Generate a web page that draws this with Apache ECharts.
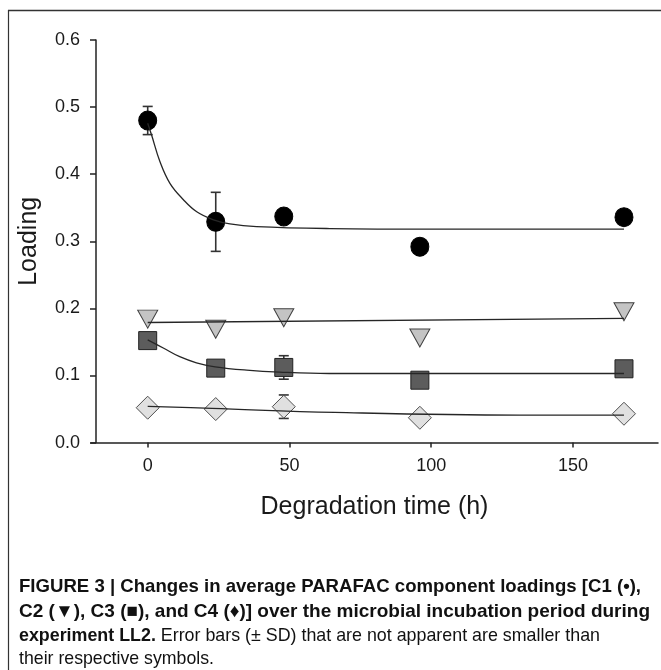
<!DOCTYPE html>
<html><head><meta charset="utf-8">
<script src="https://cdn.jsdelivr.net/npm/echarts@6/dist/echarts.min.js"></script>
<style>html,body{margin:0;padding:0;background:#fff}#c{width:661px;height:670px}</style>
</head><body><div id="c"></div>
<script>
// ---- data ----
const times = [0, 24, 48, 96, 168];
const c1 = [0.480, 0.329, 0.337, 0.292, 0.336];
const c1Err = [0.021, 0.044, 0, 0, 0];
const c2 = [0.184, 0.169, 0.186, 0.156, 0.195];
const c2Err = [0, 0, 0, 0, 0];
const c3 = [0.152, 0.111, 0.112, 0.093, 0.110];
const c3Err = [0, 0, 0.0175, 0, 0];
const c4 = [0.052, 0.050, 0.0535, 0.037, 0.043];
const c4Err = [0, 0, 0.0175, 0, 0];

// fitted curves
const fitC1T = [0, 1.4, 4.3, 7.9, 12.6, 17.3, 23.2, 29, 38.4, 64.3, 100, 168];
const fitC1 = [0.476, 0.458, 0.419, 0.386, 0.362, 0.344, 0.332, 0.326, 0.322, 0.319, 0.318, 0.318];
const fitC2T = [0, 168];
const fitC2 = [0.179, 0.185];
const fitC3T = [0, 5.5, 11.3, 17.2, 23.8, 34.9, 46.6, 64, 168];
const fitC3 = [0.153, 0.141, 0.128, 0.119, 0.113, 0.108, 0.105, 0.103, 0.103];
const fitC4T = [0, 22.6, 66, 131, 168];
const fitC4 = [0.054, 0.051, 0.045, 0.041, 0.041];

const xTicks = [0, 50, 100, 150];
const yTickLabels = ['0.0', '0.1', '0.2', '0.3', '0.4', '0.5', '0.6'];
const xTitle = 'Degradation time (h)';
const yTitle = 'Loading';
const captionBold1 = 'FIGURE 3 | Changes in average PARAFAC component loadings [C1 (\u2022),';
const captionBold2 = 'C2 (\u25BC), C3 (\u25A0), and C4 (\u2666)] over the microbial incubation period during';
const captionBold3 = 'experiment LL2.';
const captionNorm3 = ' Error bars (\u00B1 SD) that are not apparent are smaller than';
const captionNorm4 = 'their respective symbols.';

// ---- chart ----
const FONT = '"Liberation Sans", Arial, "DejaVu Sans", sans-serif';
const chart = echarts.init(document.getElementById('c'), null, {renderer: 'canvas'});
const pairs = (xs, ys) => xs.map((x, i) => [x, ys[i]]);

function scatter(vals, symbol, size, fill, stroke, rot) {
  return {
    type: 'scatter', data: pairs(times, vals), symbol: symbol, symbolSize: size,
    symbolRotate: rot || 0, z: 2, silent: true,
    itemStyle: {color: fill, borderColor: stroke, borderWidth: 1, opacity: 1}
  };
}
function fit(xs, ys) {
  return {
    type: 'line', data: pairs(xs, ys), smooth: 0.4, showSymbol: false, symbol: 'none', z: 3,
    silent: true, lineStyle: {color: '#262626', width: 1.3}
  };
}
function errBars(vals, errs) {
  const data = times.map((t, i) => [t, vals[i], errs[i]]).filter(d => d[2] > 0);
  return {
    type: 'custom', data: data, z: 1, silent: true, encode: {x: 0, y: 1},
    renderItem: function (params, api) {
      const x = api.value(0), y = api.value(1), e = api.value(2);
      const top = api.coord([x, y + e]), bot = api.coord([x, y - e]);
      const hw = 5, st = {stroke: '#333', lineWidth: 1.6};
      return {type: 'group', children: [
        {type: 'line', shape: {x1: top[0], y1: top[1], x2: bot[0], y2: bot[1]}, style: st},
        {type: 'line', shape: {x1: top[0] - hw, y1: top[1], x2: top[0] + hw, y2: top[1]}, style: st},
        {type: 'line', shape: {x1: bot[0] - hw, y1: bot[1], x2: bot[0] + hw, y2: bot[1]}, style: st}
      ]};
    }
  };
}

// caption horizontal squeeze to match the condensed face of the original
const mctx = document.createElement('canvas').getContext('2d');
function w(txt, weight, size) { mctx.font = weight + ' ' + size + 'px ' + FONT; return mctx.measureText(txt).width; }
const CAP = 19;
const capLeft = 19;
const capTargets = [622, 631, 581, 195];
const capY = [587, 612, 636, 659];
const capW = [
  w(captionBold1, 'bold', CAP),
  w(captionBold2, 'bold', CAP),
  w(captionBold3, 'bold', CAP) + w(captionNorm3, 'normal', CAP),
  w(captionNorm4, 'normal', CAP)
];
function capText(i, text, rich) {
  const el = {
    type: 'text', x: capLeft, y: capY[i], scaleX: capTargets[i] / capW[i], scaleY: 1,
    originX: 0, originY: 0, silent: true,
    style: {text: text, fill: '#111', font: (i < 2 ? 'bold ' : 'normal ') + CAP + 'px ' + FONT,
      verticalAlign: 'middle', align: 'left'}
  };
  if (rich) el.style.rich = rich;
  return el;
}

const option = {
  animation: false,
  backgroundColor: '#fff',
  grid: {left: 91, right: 3, top: 40, bottom: 227.4, outerBoundsMode: 'none', containLabel: false},
  xAxis: {
    type: 'value', min: -20, max: 180,
    axisLine: {show: true, onZero: false, lineStyle: {color: '#222', width: 1.5}},
    axisTick: {show: true, length: 5, customValues: xTicks, lineStyle: {color: '#222', width: 1.5}},
    axisLabel: {customValues: xTicks, fontSize: 18, color: '#1a1a1a', margin: 14, fontFamily: FONT},
    splitLine: {show: false},
    name: xTitle, nameLocation: 'middle', nameGap: 52,
    nameTextStyle: {fontSize: 25, color: '#1a1a1a', fontFamily: FONT}
  },
  yAxis: {
    type: 'value', min: 0, max: 0.6, interval: 0.1, offset: -5,
    axisLine: {show: true, onZero: false, lineStyle: {color: '#222', width: 1.5}},
    axisTick: {show: true, length: 6, lineStyle: {color: '#222', width: 1.5}},
    axisLabel: {formatter: (v) => yTickLabels[Math.round(v * 10)], fontSize: 18, color: '#1a1a1a', margin: 16, fontFamily: FONT},
    splitLine: {show: false},
    name: yTitle, nameLocation: 'middle', nameGap: 54, nameRotate: 90,
    nameTextStyle: {fontSize: 25, color: '#1a1a1a', fontFamily: FONT}
  },
  series: [
    errBars(c1, c1Err), errBars(c2, c2Err), errBars(c3, c3Err), errBars(c4, c4Err),
    scatter(c1, 'circle', [18, 19], '#000', '#000'),
    scatter(c2, 'triangle', [20, 18], '#c4c4c4', '#404040', 180),
    scatter(c3, 'rect', [18, 18], '#5c5c5c', '#222'),
    scatter(c4, 'diamond', [23, 23], '#e0e0e0', '#505050'),
    fit(fitC1T, fitC1), fit(fitC2T, fitC2), fit(fitC3T, fitC3), fit(fitC4T, fitC4)
  ],
  graphic: [
    {type: 'line', silent: true, shape: {x1: 8.5, y1: 10, x2: 8.5, y2: 670}, style: {stroke: '#333', lineWidth: 1.2}},
    {type: 'line', silent: true, shape: {x1: 8, y1: 10.5, x2: 661, y2: 10.5}, style: {stroke: '#333', lineWidth: 1.5}},
    capText(0, captionBold1),
    capText(1, captionBold2),
    capText(2, '{b|' + captionBold3 + '}{n|' + captionNorm3 + '}', {
      b: {fontWeight: 'bold', fontSize: CAP, fontFamily: FONT, fill: '#111'},
      n: {fontWeight: 'normal', fontSize: CAP, fontFamily: FONT, fill: '#111'}
    }),
    capText(3, captionNorm4)
  ]
};
chart.setOption(option);
</script>
</body></html>
